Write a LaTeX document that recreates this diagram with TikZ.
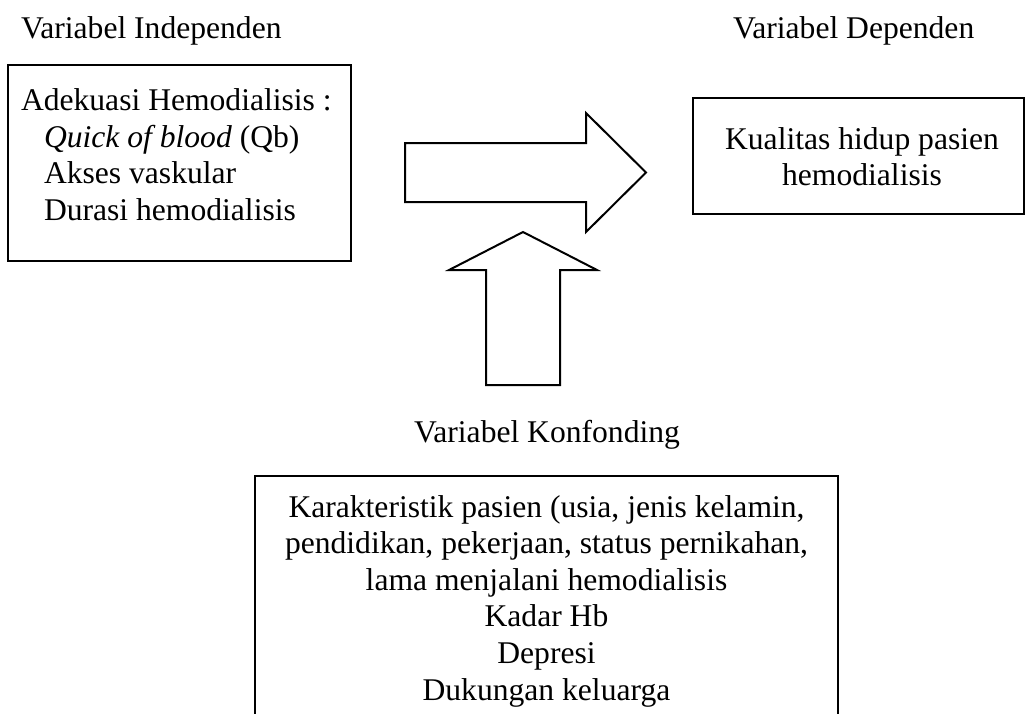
\documentclass[tikz,border=0pt]{standalone}
\usepackage{fontspec}
\setmainfont{Liberation Serif}
\usetikzlibrary{positioning}
\usetikzlibrary{fit}

\begin{document}
\begin{tikzpicture}[x=0.5pt,y=-0.5pt,line width=1pt,line join=miter]
   \tikzset{txt/.style={inner sep=0pt,font=\fontsize{15.8}{18.3}\selectfont}}
   \tikzset{box/.style={draw,inner sep=0pt}}
   \useasboundingbox (0,0) rectangle (1026,713);
   \clip (0,0) rectangle (1026,713);
   % judul variabel
   \node[txt,anchor=base west] (judulind) at (20,38) {Variabel Independen};
   \node[txt,anchor=base west] (juduldep) at (732,38) {Variabel Dependen};
   \node[txt,anchor=base] (judulkon) at (547,442) {Variabel Konfonding};
   % kotak
   \node[box,fit={(8,65) (351,261)}] (ind) {};
   \node[box,fit={(693,98) (1024,214)}] (dep) {};
   \node[box,fit={(255,476) (838,760)}] (kon) {};
   % isi kotak (base = baris terakhir)
   \node[txt,anchor=base west,align=left] (indtxt) at (20,220.3)
      {Adekuasi Hemodialisis :\\
       \hspace{11.5pt}\textit{Quick of blood} (Qb)\\
       \hspace{11.5pt}Akses vaskular\\
       \hspace{11.5pt}Durasi hemodialisis};
   \node[txt,anchor=base,align=center] (deptxt) at (862,185.6)
      {Kualitas hidup pasien\\hemodialisis};
   \node[txt,anchor=base,align=center] (kontxt) at (546.5,700)
      {Karakteristik pasien (usia, jenis kelamin,\\
       pendidikan, pekerjaan, status pernikahan,\\
       lama menjalani hemodialisis\\
       Kadar Hb\\
       Depresi\\
       Dukungan keluarga};
   % panah blok
   \draw (405,143) -- (586,143) -- (586,113) -- (646,172.5)
      -- (586,232) -- (586,202) -- (405,202) -- cycle;
   \draw (523,232) -- (597,270) -- (560,270) -- (560,385)
      -- (486,385) -- (486,270) -- (449,270) -- cycle;
\end{tikzpicture}
\end{document}
